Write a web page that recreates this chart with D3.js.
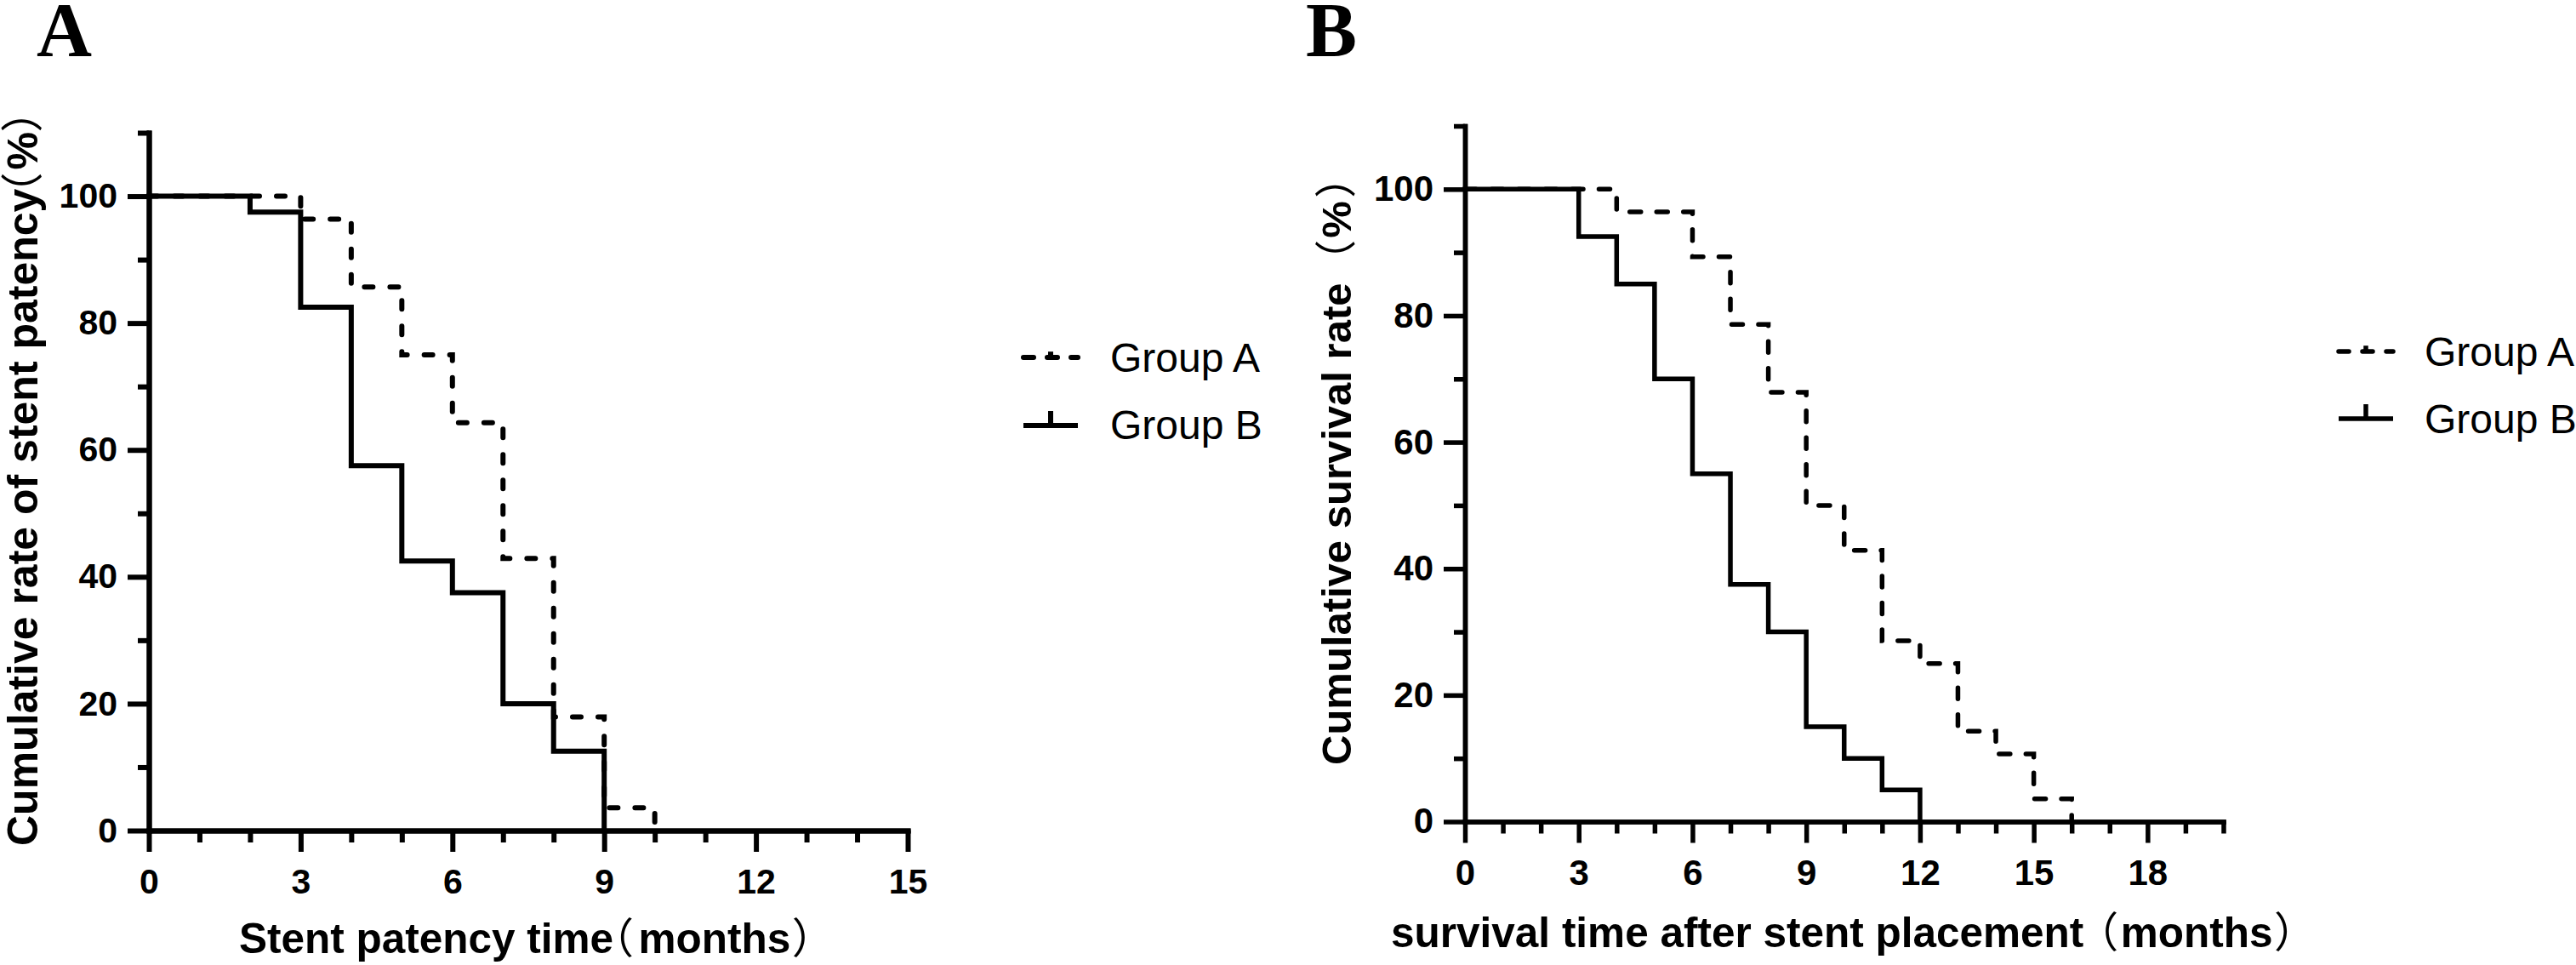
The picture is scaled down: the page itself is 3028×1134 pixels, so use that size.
<!DOCTYPE html>
<html><head><meta charset="utf-8">
<script src="https://cdn.jsdelivr.net/npm/d3@7"></script>
<style>
html,body{margin:0;padding:0;background:#fff;}
svg{display:block;background:#fff;}
</style></head><body>
<svg id="chart" width="3028" height="1134" font-family="'Liberation Sans', Arial, Helvetica, sans-serif"></svg>
<script>
// ---------- data ----------
const seriesNames = ["Group A", "Group B"];
// Panel A: stent patency (months, %)
const patencyTimeA = [0, 3, 4, 5, 6, 7, 8, 9, 10];
const patencyRateA = [100, 96.4, 85.7, 75, 64.3, 42.9, 17.9, 3.6, 0];
const patencyTimeB = [0, 2, 3, 4, 5, 6, 7, 8, 9];
const patencyRateB = [100, 97.5, 82.5, 57.5, 42.5, 37.5, 20, 12.5, 0];
// Panel B: survival (months, %)
const survivalTimeA = [0, 4, 6, 7, 8, 9, 10, 11, 12, 13, 14, 15, 16];
const survivalRateA = [100, 96.4, 89.3, 78.6, 67.9, 50, 42.9, 28.6, 25, 14.3, 10.7, 3.6, 0];
const survivalTimeB = [0, 3, 4, 5, 6, 7, 8, 9, 10, 11, 12];
const survivalRateB = [100, 92.5, 85, 70, 55, 37.5, 30, 15, 10, 5, 0];
// ticks
const yMajorTicks = [0, 20, 40, 60, 80, 100];
const yMinorTicks = [10, 30, 50, 70, 90, 110];
const xMajorTicksA = [0, 3, 6, 9, 12, 15];
const xMajorTicksB = [0, 3, 6, 9, 12, 15, 18];
const xMaxA = 15, xMaxB = 20, yMax = 110;

const svg = d3.select("#chart");
const SANS = "'Liberation Sans', Arial, Helvetica, sans-serif";
const CJK = "'Noto Sans CJK SC', 'Noto Sans CJK JP', sans-serif";

const ctx = document.createElement("canvas").getContext("2d");
function ink(str, font) {
  ctx.font = font;
  const m = ctx.measureText(str);
  return { w: m.width, l: -m.actualBoundingBoxLeft, r: m.actualBoundingBoxRight };
}

function zip(t, r) { return t.map((d, i) => [d, r[i]]); }

// text + fullwidth parentheses (half-width "halt" forms), ink gaps (px) tuned to the reference
function addParenText(sel, size, before, inner, gaps) {
  const bold = `bold ${size}px 'Liberation Sans'`;
  const cjk = `normal ${size}px 'Noto Sans CJK SC'`;
  const P = ink(before, bold), O = ink("（", cjk), I = ink(inner, bold), C = ink("）", cjk);
  sel.append("tspan").text(before);
  const tO = sel.append("tspan").style("font-family", CJK).style("font-weight", "normal")
    .style("font-feature-settings", '"halt"').text("（");
  const tI = sel.append("tspan").text(inner);
  const tC = sel.append("tspan").style("font-family", CJK).style("font-weight", "normal")
    .style("font-feature-settings", '"halt"').text("）");
  let wO = O.w;
  try { const v = tO.node().getComputedTextLength(); if (v > 0) wO = v; } catch (e) {}
  const shiftO = Math.max(0, O.w - wO);       // glyph placement shift applied by "halt"
  const dxO = gaps[0] - (P.w - P.r) - (O.l - shiftO);
  const dxI = (O.r - shiftO) + gaps[1] - wO - I.l;
  const dxC = gaps[2] - (I.w - I.r) - C.l;
  tO.attr("dx", dxO); tI.attr("dx", dxI); tC.attr("dx", dxC);
}

function panel(cfg) {
  const g = svg.append("g");
  const x = d3.scaleLinear().domain([0, cfg.xMax]).range(cfg.xRange);
  const y = d3.scaleLinear().domain([0, yMax]).range(cfg.yRange);
  const sw = cfg.sw;

  // curves
  const line = d3.line().x(d => x(d[0])).y(d => y(d[1])).curve(d3.curveStepAfter);
  g.append("path").datum(cfg.dataA).attr("d", line)
    .attr("fill", "none").attr("stroke", "#000").attr("stroke-width", sw)
    .attr("stroke-dasharray", cfg.dash).attr("stroke-linecap", "round");
  g.append("path").datum(cfg.dataB).attr("d", line)
    .attr("fill", "none").attr("stroke", "#000").attr("stroke-width", sw)
    .attr("stroke-linejoin", "miter").attr("stroke-linecap", "square");

  // axes
  const styleAxis = (sel) => {
    sel.selectAll("path.domain").attr("stroke", "#000").attr("stroke-width", sw).attr("stroke-linecap", "square");
    sel.selectAll(".tick line").attr("stroke", "#000").attr("stroke-width", sw);
    sel.selectAll(".tick text").attr("font-size", cfg.tickFont).attr("font-weight", "bold")
      .attr("font-family", SANS).attr("fill", "#000");
  };
  const xMinorTicks = d3.range(0, cfg.xMax + 1).filter(v => !cfg.xMajor.includes(v));
  g.append("g").attr("transform", `translate(0,${y(0)})`)
    .call(d3.axisBottom(x).tickValues(xMinorTicks).tickSize(14).tickSizeOuter(0).tickFormat(""))
    .call(styleAxis);
  g.append("g").attr("transform", `translate(0,${y(0)})`)
    .call(d3.axisBottom(x).tickValues(cfg.xMajor).tickSize(25).tickSizeOuter(0).tickPadding(20).tickFormat(d3.format("d")))
    .call(styleAxis);
  g.append("g").attr("transform", `translate(${x(0)},0)`)
    .call(d3.axisLeft(y).tickValues(yMinorTicks).tickSize(13).tickSizeOuter(0).tickFormat(""))
    .call(styleAxis);
  g.append("g").attr("transform", `translate(${x(0)},0)`)
    .call(d3.axisLeft(y).tickValues(yMajorTicks).tickSize(25).tickSizeOuter(0).tickPadding(12).tickFormat(d3.format("d")))
    .call(styleAxis);

  // x title
  const xt = g.append("text").attr("x", cfg.xTitle.x).attr("y", cfg.xTitle.y)
    .attr("text-anchor", "start").attr("font-size", cfg.xTitle.font).attr("font-weight", "bold");
  addParenText(xt, cfg.xTitle.font, cfg.xTitle.text, "months", cfg.xTitle.gaps);

  // y title
  const yt = g.append("text").attr("transform", `translate(${cfg.yTitle.x},${cfg.yTitle.y}) rotate(-90)`)
    .attr("text-anchor", "start").attr("font-size", cfg.yTitle.font).attr("font-weight", "bold");
  addParenText(yt, cfg.yTitle.font, cfg.yTitle.text, "%", cfg.yTitle.gaps);

  // panel letter
  g.append("text").attr("x", cfg.letterX).attr("y", 66).attr("font-size", 90).attr("font-weight", "bold")
    .style("font-family", "'Liberation Serif','Times New Roman',serif").text(cfg.letter);

  // legend
  const L = cfg.legend;
  seriesNames.forEach((name, i) => {
    const ly = L.lineY[i];
    const lg = g.append("g");
    lg.append("line").attr("x1", L.x0).attr("x2", L.x1).attr("y1", ly).attr("y2", ly)
      .attr("stroke", "#000").attr("stroke-width", sw)
      .attr("stroke-dasharray", i === 0 ? L.dash : null).attr("stroke-linecap", i === 0 ? "round" : "butt");
    const cx = (L.x0 + L.x1) / 2;
    lg.append("line").attr("x1", cx).attr("x2", cx).attr("y1", ly).attr("y2", ly - (i === 0 ? L.tick * 0.4 : L.tick))
      .attr("stroke", "#000").attr("stroke-width", sw);
    lg.append("text").attr("x", L.textX).attr("y", L.textY[i]).attr("font-size", L.font).text(name);
  });
}

panel({
  xMax: xMaxA, xRange: [175, 1067], yRange: [976, 156], sw: 6, dash: "10 20",
  dataA: zip(patencyTimeA, patencyRateA), dataB: zip(patencyTimeB, patencyRateB),
  xMajor: xMajorTicksA, tickFont: 41,
  xTitle: { text: "Stent patency time", x: 281, y: 1120, font: 49.5, gaps: [10, 10, 5] },
  yTitle: { text: "Cumulative rate of stent patency", x: 44, y: 994, font: 50, gaps: [3, 6, 2] },
  letter: "A", letterX: 43,
  legend: { x0: 1203, x1: 1267, lineY: [420, 500], dash: "12 16", tick: 17, textX: 1305, textY: [437, 516], font: 48 }
});

panel({
  xMax: xMaxB, xRange: [1722, 2613.5], yRange: [965.5, 148], sw: 5.5, dash: "13 18.5",
  dataA: zip(survivalTimeA, survivalRateA), dataB: zip(survivalTimeB, survivalRateB),
  xMajor: xMajorTicksB, tickFont: 42,
  xTitle: { text: "survival time after stent placement", x: 1635, y: 1113, font: 49.5, gaps: [26, 7, 5] },
  yTitle: { text: "Cumulative survival rate ", x: 1588, y: 899, font: 49, gaps: [37, 5, 6] },
  letter: "B", letterX: 1535,
  legend: { x0: 2749, x1: 2813, lineY: [413, 492], dash: "12 16", tick: 17, textX: 2850, textY: [430, 509], font: 48 }
});
</script>
</body></html>
